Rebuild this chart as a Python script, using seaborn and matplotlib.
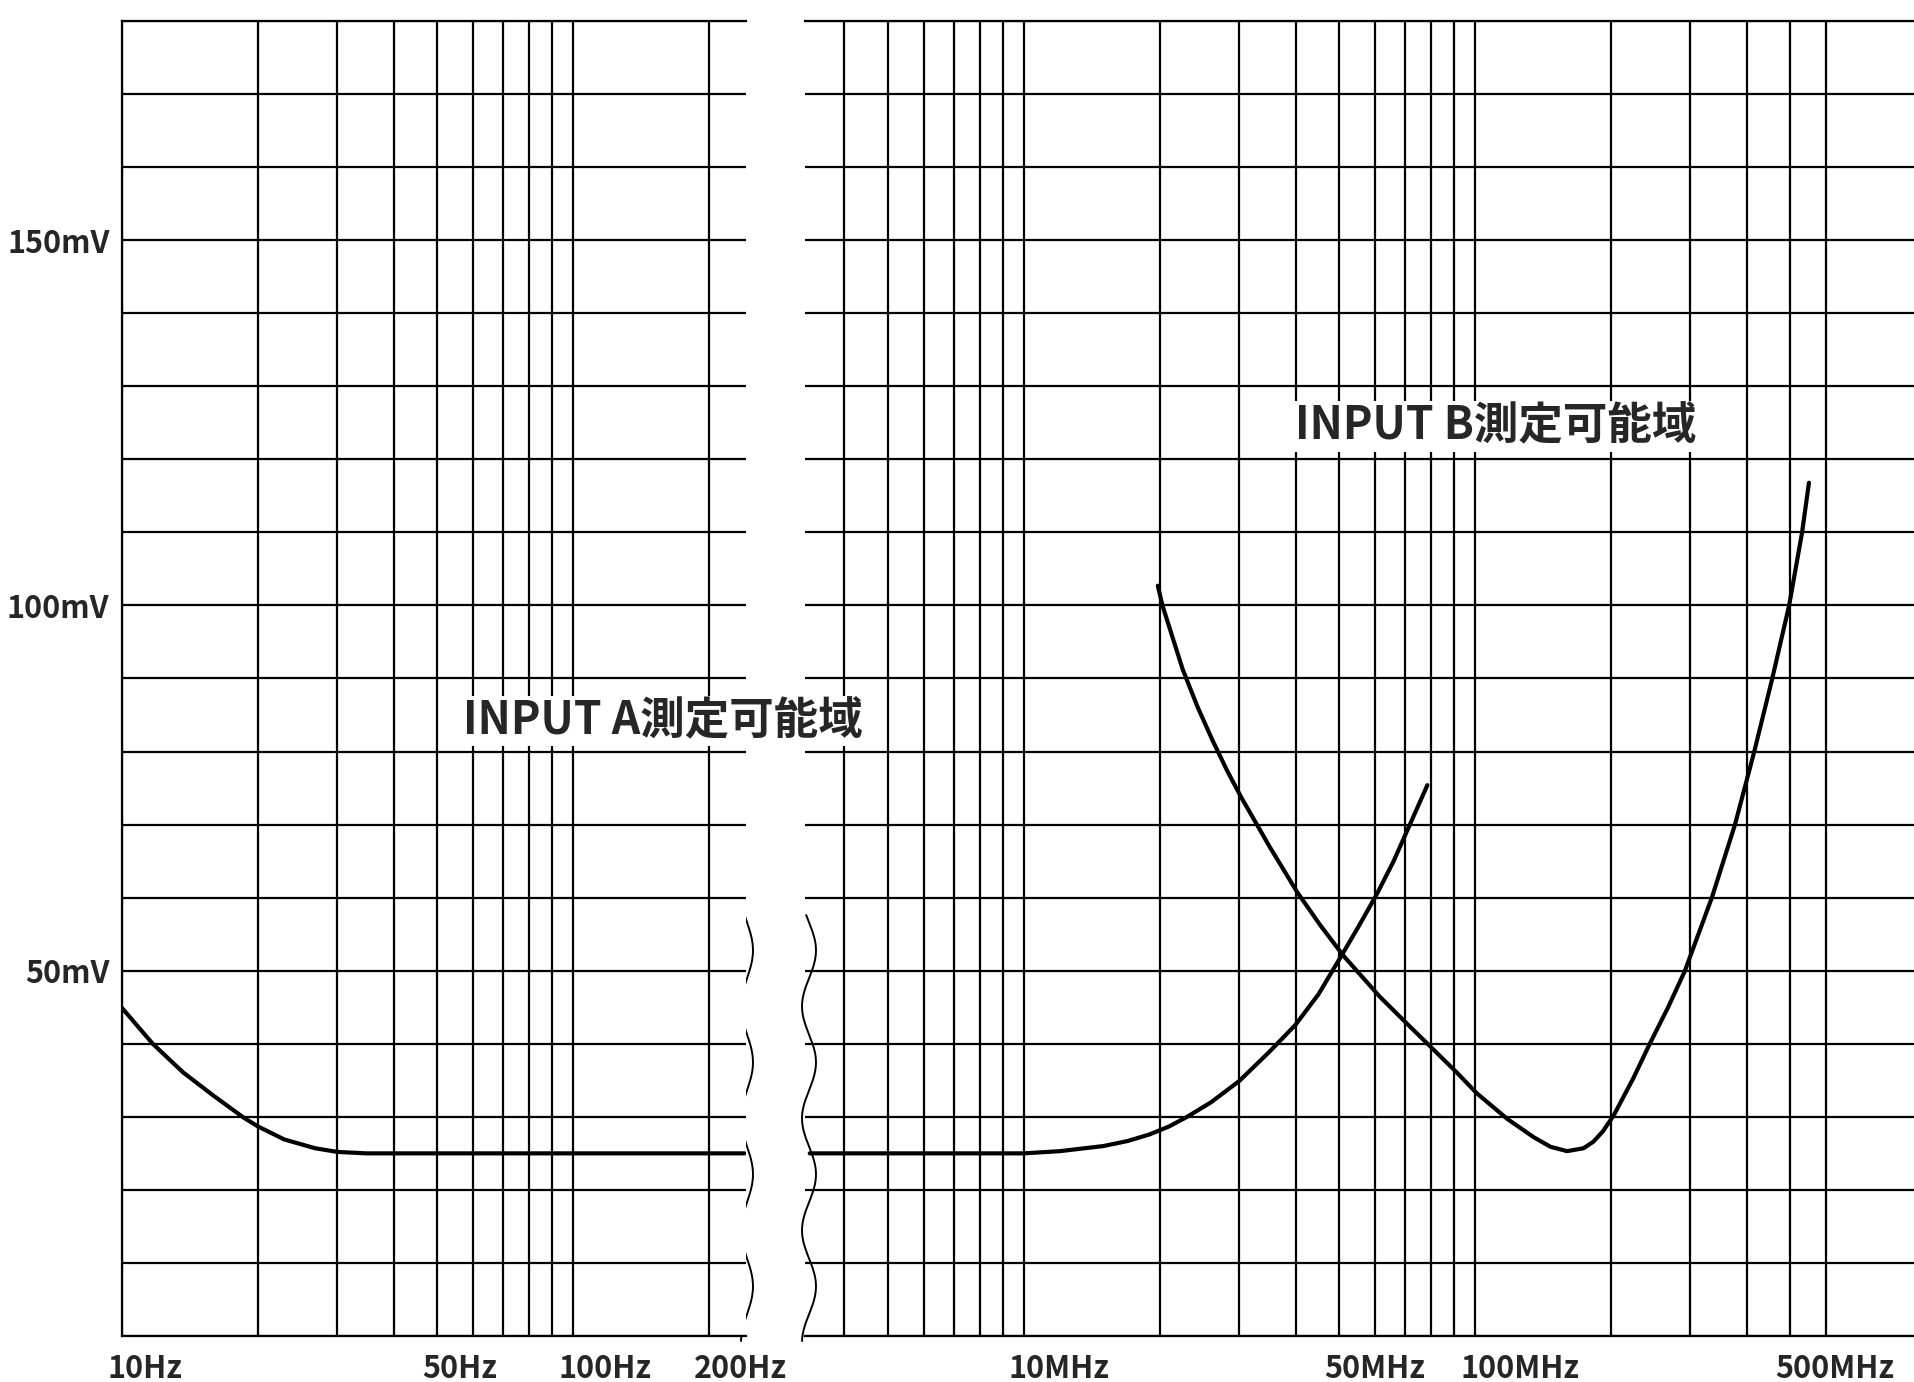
import numpy as np
import matplotlib
matplotlib.use("Agg")
import matplotlib.pyplot as plt
from matplotlib.lines import Line2D
from matplotlib.ticker import NullFormatter
from matplotlib.transforms import ScaledTranslation
import seaborn as sns

# INPUT A, low band (Hz -> mV)
freq_a_low = [10, 11.7, 13.65, 15.95, 18.6, 20, 22.9, 26.8, 30, 34.8, 50, 100, 200, 240]
volt_a_low = [44.9, 40.0, 36.1, 32.9, 29.9, 28.7, 26.9, 25.7, 25.2, 25.0, 25.0, 25.0, 25.0, 25.0]

# INPUT A, high band (MHz -> mV)
freq_a_high = [3.35, 5, 8, 10, 12, 15, 17, 19, 21, 23, 26, 30, 35, 40, 45, 50.5, 55, 60.6, 66, 71.7, 78.4]
volt_a_high = [25.0, 25.0, 25.0, 25.0, 25.3, 26.0, 26.7, 27.6, 28.7, 30.0, 32.0, 34.9, 38.9, 42.6, 46.8,
               52.0, 55.9, 60.5, 65.0, 70.0, 75.4]

# INPUT B (MHz -> mV)
freq_b = [19.8, 20.3, 22.5, 24.3, 26.2, 28.2, 30.4, 35.1, 40.3, 45.3, 51.0, 61.6, 70.8, 80.9, 91, 101, 118,
          135, 147, 160, 174, 183, 192, 203, 224, 244, 268, 292, 335, 377, 416, 456, 497, 531, 550]
volt_b = [102.7, 99.9, 91.2, 86.0, 81.5, 77.4, 73.6, 66.9, 60.8, 56.3, 52.1, 46.4, 42.7, 39.2, 36.1, 33.2, 29.7,
          27.2, 25.9, 25.3, 25.7, 26.6, 28.0, 30.2, 35.2, 40.0, 45.0, 50.0, 60.0, 70.0, 80.0, 90.0, 100.0,
          110.0, 116.8]

# axis ticks
low_major = [10, 50, 100, 200]
low_labels = ["10Hz", "50Hz", "100Hz", "200Hz"]
low_minor = [20, 30, 40, 60, 70, 80, 90]
high_major = [10, 50, 100, 500]
high_labels = ["10MHz", "50MHz", "100MHz", "500MHz"]
high_minor = [4, 5, 6, 7, 8, 9, 20, 30, 40, 60, 70, 80, 90, 200, 300, 400, 600]
y_major = [50, 100, 150]
y_labels = ["50mV", "100mV", "150mV"]
y_minor = [0, 10, 20, 30, 40, 60, 70, 80, 90, 110, 120, 130, 140, 160, 170, 180]

sns.set_style("white")
plt.rcParams['font.family'] = ['Noto Sans CJK JP', 'DejaVu Sans']

W, H = 1915, 1382
fig = plt.figure(figsize=(W / 100, H / 100), dpi=100)

top_px, bot_px = 21, 1336
y0 = 1 - bot_px / H
hgt = (bot_px - top_px) / H
ax1 = fig.add_axes([122 / W, y0, (746 - 122) / W, hgt])
ax2 = fig.add_axes([805 / W, y0, (W - 805) / W, hgt])
ax1.set_zorder(3)

grid_kw = dict(color="black", linewidth=1.6)
for ax, xlim, major, labels, minor in [
    (ax1, (10, 241.8), low_major, low_labels, low_minor),
    (ax2, (3.27, 945), high_major, high_labels, high_minor),
]:
    ax.set_xscale("log")
    ax.set_xlim(*xlim)
    ax.set_ylim(0, 180)
    ax.set_xticks(major, labels=labels)
    ax.set_xticks(minor, minor=True)
    ax.xaxis.set_minor_formatter(NullFormatter())
    ax.set_yticks(y_major, labels=y_labels)
    ax.set_yticks(y_minor, minor=True)
    ax.grid(which="both", **grid_kw)
    ax.tick_params(which="both", length=0)
    ax.tick_params(axis="x", pad=12, labelsize=22)
    ax.tick_params(axis="y", pad=9, labelsize=22)
    for lbl in ax.get_xticklabels():
        lbl.set_fontweight("bold")
        lbl.set_horizontalalignment("left")
        lbl.set_transform(lbl.get_transform() + ScaledTranslation(-0.15, 0, fig.dpi_scale_trans))
    for lbl in ax.get_yticklabels():
        lbl.set_fontweight("bold")
    for side in ["top", "bottom", "left", "right"]:
        ax.spines[side].set_color("black")
        ax.spines[side].set_linewidth(1.6)
    ax.spines["right"].set_visible(False)

ax2.spines["left"].set_visible(False)
ax2.tick_params(labelleft=False)

curve_kw = dict(color="black", linewidth=3.0, estimator=None)
sns.lineplot(x=freq_a_low, y=volt_a_low, ax=ax1, **curve_kw)
sns.lineplot(x=freq_a_high, y=volt_a_high, ax=ax2, **curve_kw)
sns.lineplot(x=freq_b, y=volt_b, ax=ax2, **curve_kw)
for ax in (ax1, ax2):
    ax.set_xlabel("")
    ax.set_ylabel("")

box = dict(facecolor="white", edgecolor="none", boxstyle="square,pad=0.05")
ax1.text(158, 84.2, "INPUT A測定可能域", ha="center", va="center", fontsize=32,
         fontweight="bold", bbox=box, zorder=6, clip_on=False)
ax2.text(111, 124.5, "INPUT B測定可能域", ha="center", va="center", fontsize=32,
         fontweight="bold", bbox=box, zorder=6, clip_on=False)

# wavy break marks between the two frequency bands
py = np.linspace(915, 1341, 200)
for cx, amp in [(747, 6.0), (809, 7.0)]:
    px = cx + amp * np.sin(2 * np.pi * (py - 917) / 112 - 0.3)
    fig.add_artist(Line2D(px / W, 1 - py / H, transform=fig.transFigure,
                          color="black", linewidth=1.4))

fig.savefig("out.png", dpi=100, facecolor="white")
